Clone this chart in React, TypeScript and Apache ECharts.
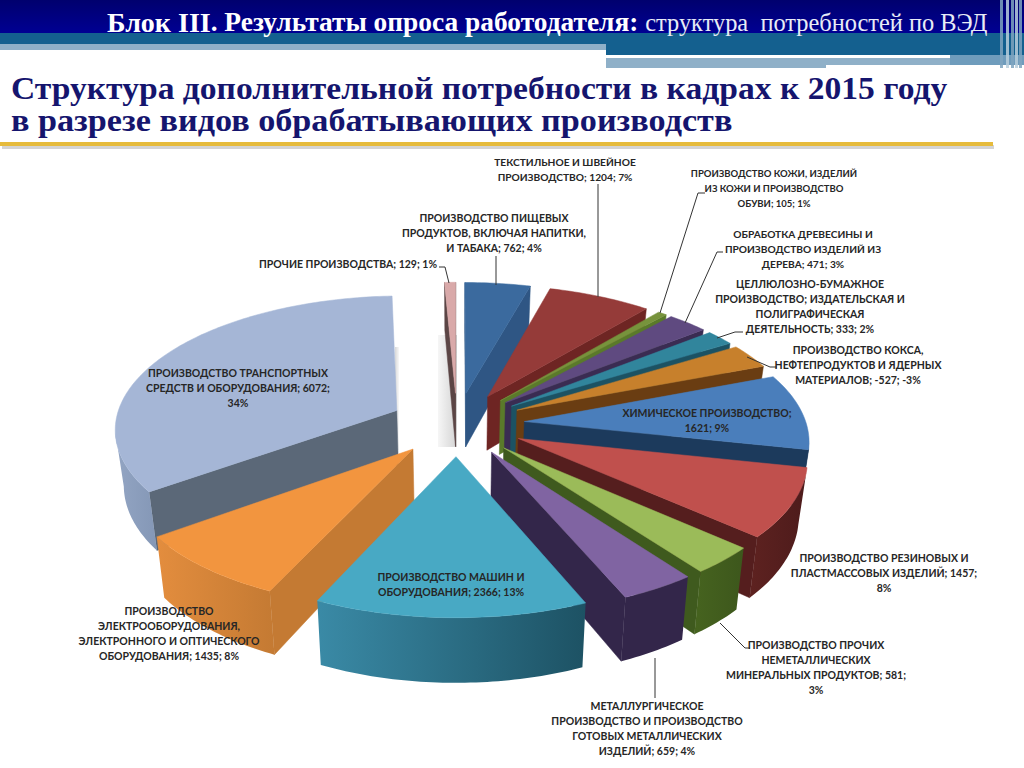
import React, { useEffect, useRef } from "react";
import * as echarts from "echarts";

const categories = [
  "Пищевые продукты", "Текстиль", "Кожа", "Древесина", "Целлюлоза", "Кокс",
  "Химия", "Резина", "Неметаллические", "Металлургия", "Машины",
  "Электрооборудование", "Транспорт", "Прочие",
];
const values = [762, 1204, 105, 471, 333, -527, 1621, 1457, 581, 659, 2366, 1435, 6072, 129];
const labelTexts = [
  "ПРОИЗВОДСТВО ПИЩЕВЫХ\nПРОДУКТОВ, ВКЛЮЧАЯ НАПИТКИ,\nИ ТАБАКА; 762; 4%",
  "ТЕКСТИЛЬНОЕ И ШВЕЙНОЕ\nПРОИЗВОДСТВО; 1204; 7%",
  "ПРОИЗВОДСТВО КОЖИ, ИЗДЕЛИЙ\nИЗ КОЖИ И ПРОИЗВОДСТВО\nОБУВИ; 105; 1%",
  "ОБРАБОТКА ДРЕВЕСИНЫ И\nПРОИЗВОДСТВО ИЗДЕЛИЙ ИЗ\nДЕРЕВА; 471; 3%",
  "ЦЕЛЛЮЛОЗНО-БУМАЖНОЕ\nПРОИЗВОДСТВО; ИЗДАТЕЛЬСКАЯ И\nПОЛИГРАФИЧЕСКАЯ\nДЕЯТЕЛЬНОСТЬ; 333; 2%",
  "ПРОИЗВОДСТВО КОКСА,\nНЕФТЕПРОДУКТОВ И ЯДЕРНЫХ\nМАТЕРИАЛОВ; -527; -3%",
  "ХИМИЧЕСКОЕ ПРОИЗВОДСТВО;\n1621; 9%",
  "ПРОИЗВОДСТВО РЕЗИНОВЫХ И\nПЛАСТМАССОВЫХ ИЗДЕЛИЙ; 1457;\n8%",
  "ПРОИЗВОДСТВО ПРОЧИХ\nНЕМЕТАЛЛИЧЕСКИХ\nМИНЕРАЛЬНЫХ ПРОДУКТОВ; 581;\n3%",
  "МЕТАЛЛУРГИЧЕСКОЕ\nПРОИЗВОДСТВО И ПРОИЗВОДСТВО\nГОТОВЫХ МЕТАЛЛИЧЕСКИХ\nИЗДЕЛИЙ; 659; 4%",
  "ПРОИЗВОДСТВО МАШИН И\nОБОРУДОВАНИЯ; 2366; 13%",
  "ПРОИЗВОДСТВО\nЭЛЕКТРООБОРУДОВАНИЯ,\nЭЛЕКТРОННОГО И ОПТИЧЕСКОГО\nОБОРУДОВАНИЯ; 1435; 8%",
  "ПРОИЗВОДСТВО ТРАНСПОРТНЫХ\nСРЕДСТВ И ОБОРУДОВАНИЯ; 6072;\n34%",
  "ПРОЧИЕ ПРОИЗВОДСТВА; 129; 1%",
];

// styles and layout, kept apart from the data
const topColors = ["#3b6a9e", "#953b39", "#77933c", "#5f4a80", "#31859c", "#c7802c", "#4a7ebb", "#c0504d", "#9bbb59", "#8064a2", "#48a9c4", "#f2953f", "#a5b6d6", "#d9a9a9"];
const cutColors = ["#2f5684", "#6e2523", "#5a7a2a", "#3a2c52", "#1c5263", "#6a3d12", "#1c3a5c", "#551e1e", "#3f5a1e", "#33264a", "#2a6f85", "#c47a33", "#5b6878", "#5b4545"];
const outerFrom = ["#2f5684", "#6e2523", "#5a7a2a", "#3a2c52", "#1c5263", "#6a3d12", "#1c3a5c", "#5e2220", "#46631f", "#33264a", "#3a8aa6", "#e38d3e", "#93a5c3", "#5b4545"];
const outerTo = ["#2f5684", "#6e2523", "#5a7a2a", "#3a2c52", "#1c5263", "#6a3d12", "#1c3a5c", "#4d1b1b", "#3d571c", "#33264a", "#1d5264", "#c47a33", "#8497b6", "#5b4545"];
const labelCenters = [
  [494, 233], [565, 169], [774, 188], [803, 249], [810, 306], [858, 365], [707, 420],
  [884, 573], [816, 667], [647, 728], [451, 584], [169, 633], [238, 388], [348, 264],
];
const labelSizes = [10.5, 10.2, 9.5, 10.2, 10.5, 10.5, 10.5, 10.5, 10.5, 10.5, 10.5, 10.5, 10.5, 10.5];
const leaders = [
  [[496, 256], [496, 285]],
  [[598, 184], [598, 297]],
  [[705, 193], [698, 193], [660, 313]],
  [[723, 252], [717, 252], [685, 323]],
  [[743, 332], [735, 332], [717, 338]],
  [[777, 367], [770, 367], [747, 357]],
  [[750, 648], [745, 648], [720, 623]],
  [[655, 698], [655, 658]],
  [[439, 267], [445, 267], [449, 283]],
];

const CX = 457, CY = 424, RX = 282, RY = 132, PERSP = 0.125, EXPLODE = 0.24, DEPTH = 55, SHRINK = 0.975;
const START_DEG = 0;

const total = values.reduce((a, v) => a + Math.abs(v), 0);
const spans: { start: number; end: number; idx: number }[] = [];
{
  let acc = START_DEG;
  values.forEach((v, idx) => {
    const d = (Math.abs(v) / total) * 360;
    spans.push({ start: acc, end: acc + d, idx });
    acc += d;
  });
}
const rad = (d: number) => (d * Math.PI) / 180;
const drawOrder = [...spans].sort(
  (a, b) => Math.cos(rad((b.start + b.end) / 2)) - Math.cos(rad((a.start + a.end) / 2)),
);

const project = (u: number, v: number) => {
  const s = 1 / (1 - PERSP * v);
  return { x: CX + RX * u * s, y: CY + RY * v * s, s };
};
const lower = (p: { x: number; y: number; s: number }) => [
  CX + (p.x - CX) * SHRINK,
  p.y + DEPTH * p.s,
];

function renderSlice(params: any, api: any) {
  const start = api.value(0);
  const end = api.value(1);
  const idx = api.value(2);
  const mid = rad((start + end) / 2);
  const ou = EXPLODE * Math.sin(mid);
  const ov = -EXPLODE * Math.cos(mid);
  const apex = project(ou, ov);
  const arc: { x: number; y: number; s: number }[] = [];
  const steps = Math.max(2, Math.ceil(end - start));
  for (let i = 0; i <= steps; i++) {
    const t = rad(start + ((end - start) * i) / steps);
    arc.push(project(ou + Math.sin(t), ov - Math.cos(t)));
  }
  const children: any[] = [];
  const quad = (a: any, b: any, fill: string) => {
    if (b.x >= a.x) return;
    children.push({
      type: "polygon",
      shape: { points: [[a.x, a.y], [b.x, b.y], lower(b), lower(a)] },
      style: { fill, stroke: fill, lineWidth: 0.5 },
    });
  };
  // the two cut faces, when they face the viewer
  quad(apex, arc[0], cutColors[idx]);
  quad(arc[arc.length - 1], apex, cutColors[idx]);
  // the visible part of the outer wall
  const wall = [] as any[];
  for (let i = 0; i < arc.length - 1; i++) {
    if (arc[i + 1].x < arc[i].x) {
      if (!wall.length) wall.push(arc[i]);
      wall.push(arc[i + 1]);
    }
  }
  if (wall.length > 1) {
    const pts = [
      ...wall.map((p) => [p.x, p.y]),
      ...wall.slice().reverse().map((p) => lower(p)),
    ];
    children.push({
      type: "polygon",
      shape: { points: pts },
      style: {
        fill: new echarts.graphic.LinearGradient(0, 0, 1, 0, [
          { offset: 0, color: outerFrom[idx] },
          { offset: 1, color: outerTo[idx] },
        ]),
      },
    });
  }
  children.push({
    type: "polygon",
    shape: { points: [[apex.x, apex.y], ...arc.map((p) => [p.x, p.y])] },
    style: { fill: topColors[idx], stroke: topColors[idx], lineWidth: 0.5 },
  });
  return { type: "group", children };
}

const FONT = '"Liberation Serif", serif';

const headerGraphics: any[] = [
  { type: "rect", shape: { x: 0, y: 0, width: 1024, height: 34 }, z: 1,
    style: { fill: new echarts.graphic.LinearGradient(0, 0, 0, 1, [
      { offset: 0, color: "#00006e" }, { offset: 1, color: "#000094" } ]) } },
  { type: "rect", shape: { x: 0, y: 33, width: 1024, height: 12 }, z: 1, style: { fill: "#14608f" } },
  { type: "rect", shape: { x: 0, y: 44, width: 606, height: 6 }, z: 1, style: { fill: "#8fb0c8" } },
  { type: "rect", shape: { x: 606, y: 44, width: 418, height: 11 }, z: 1, style: { fill: "#14608f" } },
  { type: "rect", shape: { x: 606, y: 55, width: 344, height: 3 }, z: 1, style: { fill: "#ffffff" } },
  { type: "rect", shape: { x: 950, y: 55, width: 74, height: 10 }, z: 1, style: { fill: "#6f9cbc" } },
  { type: "rect", shape: { x: 606, y: 58, width: 220, height: 10 }, z: 1, style: { fill: "#8fb0c8" } },
  { type: "rect", shape: { x: 826, y: 58, width: 124, height: 7 }, z: 1, style: { fill: "#8fb0c8" } },
  ...[0, 6, 11, 15, 19].map((dx, i) => ({
    type: "rect", shape: { x: 1000 + dx, y: 0, width: 3, height: 68 }, z: 2,
    style: { fill: i % 2 ? "#b9cfdd" : "#7fa5bf", opacity: 0.85 },
  })),
  { type: "text", x: 107, y: 22, z: 3,
    style: {
      text: "{a|Блок III}{b|. Результаты опроса работодателя: }{c|структура  потребностей по ВЭД}",
      fill: "#fff", verticalAlign: "middle",
      rich: {
        a: { font: `bold 28px ${FONT}`, fill: "#fff" },
        b: { font: `bold 27.4px ${FONT}`, fill: "#fff" },
        c: { font: `24.4px ${FONT}`, fill: "#e8ecf6" },
      },
    } },
  { type: "text", x: 11, y: 88, z: 3, scaleX: 1.084,
    style: { text: "Структура дополнительной потребности в кадрах к 2015 году", font: `bold 31px ${FONT}`, fill: "#15156e", verticalAlign: "middle" } },
  { type: "text", x: 11, y: 121, z: 3, scaleX: 1.103,
    style: { text: "в разрезе видов обрабатывающих производств", font: `bold 31px ${FONT}`, fill: "#15156e", verticalAlign: "middle" } },
  { type: "rect", shape: { x: 2, y: 145, width: 992, height: 4 }, z: 1, style: { fill: "#d4d4d4" } },
  { type: "rect", shape: { x: 0, y: 142, width: 993, height: 4 }, z: 2, style: { fill: "#e6bb3c" } },
  // soft shadows behind the exploded slices
  { type: "rect", shape: { x: 438, y: 335, width: 19, height: 112 }, z: 1,
    style: { fill: new echarts.graphic.LinearGradient(0, 0, 1, 0, [
      { offset: 0, color: "#f6f6f6" }, { offset: 1, color: "#d4d4d4" } ]) } },
  { type: "rect", shape: { x: 395, y: 347, width: 4, height: 103 }, z: 1,
    style: { fill: new echarts.graphic.LinearGradient(0, 0, 1, 0, [
      { offset: 0, color: "#d8d8d8" }, { offset: 1, color: "#f8f8f8" } ]) } },
];

const labelGraphics: any[] = labelTexts.map((text, i) => ({
  type: "text", x: labelCenters[i][0], y: labelCenters[i][1], z: 20,
  style: {
    text, align: "center", verticalAlign: "middle",
    font: `bold ${labelSizes[i]}px Lato, "Open Sans", sans-serif`, lineHeight: 15, fill: "#262626",
  },
}));
const leaderGraphics: any[] = leaders.map((points) => ({
  type: "polyline", z: 19, shape: { points },
  style: { stroke: "#333333", lineWidth: 1, fill: "none" },
}));

export default function App() {
  const ref = useRef<HTMLDivElement>(null);
  useEffect(() => {
    const chart = echarts.init(ref.current!, null, { renderer: "svg" });
    chart.setOption({
      animation: false,
      backgroundColor: "#ffffff",
      graphic: { elements: [...headerGraphics, ...leaderGraphics, ...labelGraphics] },
      series: [
        {
          type: "custom",
          name: "Структура потребности",
          coordinateSystem: "none",
          z: 10,
          clip: false,
          silent: true,
          renderItem: renderSlice,
          encode: { itemName: 3 },
          data: drawOrder.map((s) => [s.start, s.end, s.idx, categories[s.idx]]),
        },
      ],
    });
    return () => chart.dispose();
  }, []);
  return <div ref={ref} style={{ position: "absolute", left: 0, top: 0, width: 1024, height: 768 }} />;
}
